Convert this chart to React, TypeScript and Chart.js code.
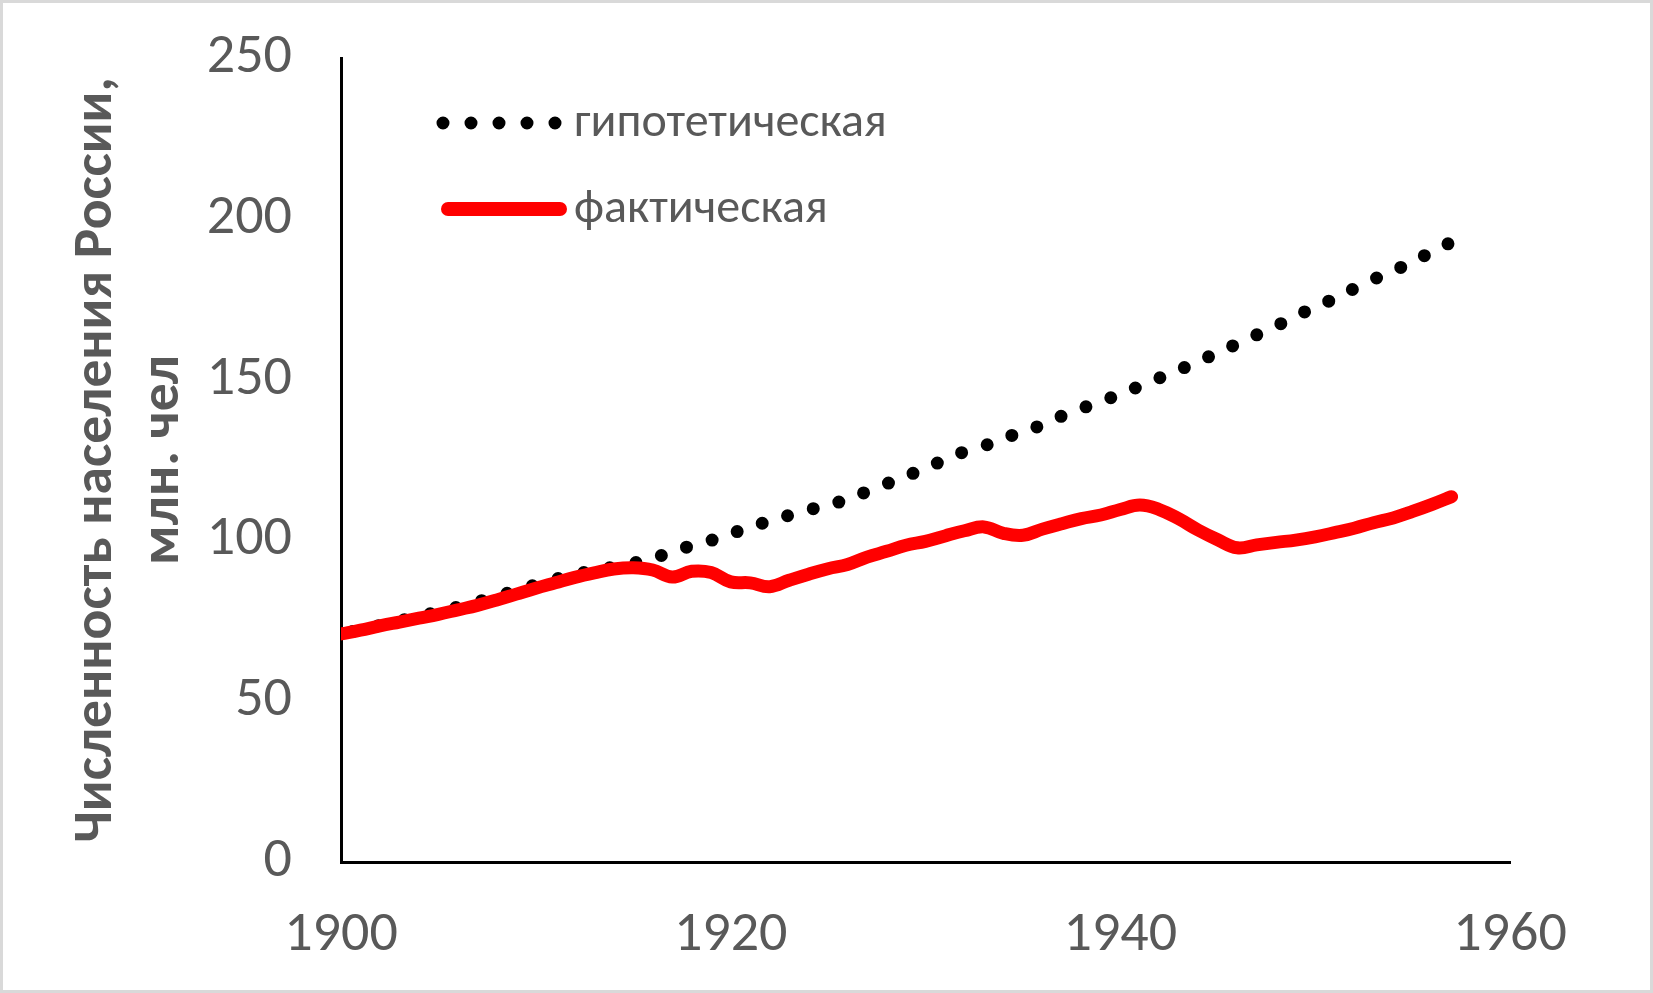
import { useEffect, useRef } from "react";
import { Chart, registerables, Plugin } from "chart.js";

Chart.register(...registerables);

const years = [
  1900, 1901, 1902, 1903, 1904, 1905, 1906, 1907, 1908, 1909,
  1910, 1911, 1912, 1913, 1914, 1915, 1916, 1917, 1918, 1919,
  1920, 1921, 1922, 1923, 1924, 1925, 1926, 1927, 1928, 1929,
  1930, 1931, 1932, 1933, 1934, 1935, 1936, 1937, 1938, 1939,
  1940, 1941, 1942, 1943, 1944, 1945, 1946, 1947, 1948, 1949,
  1950, 1951, 1952, 1953, 1954, 1955, 1956, 1957,
];

// гипотетическая численность (без войн и революций), млн. чел
const hypothetical = [
  70.9, 72.2, 73.6, 75.0, 76.4, 77.8, 79.3, 80.9, 82.6, 84.4,
  86.2, 87.9, 89.4, 90.6, 91.7, 92.9, 94.5, 96.4, 98.4, 100.0,
  102.0, 104.2, 106.0, 107.8, 109.5, 111.0, 112.8, 115.2, 117.6, 119.9,
  122.6, 125.0, 127.6, 129.4, 131.6, 134.0, 135.9, 138.7, 141.0, 143.3,
  145.4, 148.0, 150.5, 153.0, 155.6, 158.4, 161.1, 163.9, 166.7, 169.7,
  172.6, 175.2, 178.3, 181.2, 183.7, 186.8, 189.7, 192.8,
];

// фактическая численность, млн. чел
const actual = [
  70.9, 72.1, 73.4, 74.6, 75.8, 77.0, 78.4, 79.8, 81.5, 83.3,
  85.1, 86.8, 88.5, 89.9, 91.1, 91.5, 90.8, 88.6, 90.4, 90.0,
  87.1, 86.8, 85.6, 87.6, 89.5, 91.2, 92.5, 94.8, 96.6, 98.5,
  99.7, 101.4, 103.0, 104.2, 102.2, 101.6, 103.5, 105.2, 106.8, 107.9,
  109.6, 111.0, 109.6, 106.7, 103.2, 100.2, 97.7, 98.6, 99.4, 100.1,
  101.1, 102.4, 103.8, 105.5, 107.0, 109.0, 111.2, 113.6,
];

const seriesLabels = ["гипотетическая", "фактическая"];
const axisTitle = ["Численность населения России,", "млн. чел"];
const xRange = [1900, 1960];
const yRange = [0, 250];

const FONT = "Carlito, 'Open Sans', sans-serif";
const GREY = "#595959";

// легенда внутри области графика, как в исходнике
const insideLegend: Plugin<"line"> = {
  id: "insideLegend",
  afterDatasetsDraw(chart) {
    const { ctx, chartArea } = chart;
    const x0 = chartArea.left + 102;
    const rows = [chartArea.top + 65, chartArea.top + 151];
    ctx.save();
    chart.data.datasets.forEach((ds: any, i) => {
      const y = rows[i];
      ctx.beginPath();
      ctx.strokeStyle = ds.borderColor;
      ctx.lineCap = "round";
      if (i === 0) {
        ctx.lineWidth = ds.borderWidth;
        ctx.setLineDash([0, 28]);
        ctx.moveTo(x0, y);
        ctx.lineTo(x0 + 112.5, y);
      } else {
        ctx.lineWidth = 14;
        ctx.setLineDash([]);
        ctx.moveTo(x0 + 5, y);
        ctx.lineTo(x0 + 117, y);
      }
      ctx.stroke();
      ctx.setLineDash([]);
      ctx.fillStyle = GREY;
      ctx.font = `48px ${FONT}`;
      ctx.textBaseline = "middle";
      ctx.textAlign = "left";
      ctx.fillText(ds.label, x0 + 131, y + 1);
    });
    ctx.restore();
  },
};

export default function App() {
  const canvasRef = useRef<HTMLCanvasElement>(null);
  const chartRef = useRef<Chart | null>(null);

  useEffect(() => {
    document.body.style.margin = "0";
    if (!canvasRef.current) return;
    if (chartRef.current) chartRef.current.destroy();

    chartRef.current = new Chart(canvasRef.current, {
      type: "line",
      data: {
        datasets: [
          {
            label: seriesLabels[0],
            data: years.map((x, i) => ({ x, y: hypothetical[i] })),
            borderColor: "#000000",
            borderWidth: 13,
            borderDash: [0, 26.5],
            borderDashOffset: 14.5,
            borderCapStyle: "round",
            pointRadius: 0,
            tension: 0.4,
            order: 2,
          },
          {
            label: seriesLabels[1],
            data: years.map((x, i) => ({ x, y: actual[i] })),
            borderColor: "#ff0000",
            borderWidth: 13,
            borderCapStyle: "round",
            borderJoinStyle: "round",
            pointRadius: 0,
            tension: 0.4,
            order: 1,
          },
        ],
      },
      options: {
        responsive: true,
        maintainAspectRatio: false,
        animation: false,
        clip: 0 as any,
        layout: { padding: { left: 0, top: 58, right: 143, bottom: 0 } },
        plugins: {
          legend: { display: false },
          tooltip: { enabled: false },
        },
        scales: {
          x: {
            type: "linear",
            min: xRange[0],
            max: xRange[1],
            grid: { display: false },
            border: { display: true, color: "#000000", width: 3 },
            ticks: {
              stepSize: 20,
              padding: 32,
              color: GREY,
              font: { family: FONT, size: 56 },
              callback: (v) => String(v),
            },
            afterFit: (scale) => {
              scale.height = 131;
            },
          },
          y: {
            min: yRange[0],
            max: yRange[1],
            grid: { display: false },
            border: { display: true, color: "#000000", width: 3 },
            ticks: {
              stepSize: 50,
              padding: 41,
              color: GREY,
              // малая высота строки, чтобы подписи не сдвигали область графика
              font: { family: FONT, size: 56, lineHeight: 0.5 },
              callback: (v) => String(v),
            },
            title: {
              display: true,
              text: axisTitle,
              color: GREY,
              font: { family: FONT, size: 55.5, weight: "bold", lineHeight: 1.207 },
              padding: { top: 63.5, bottom: 0 },
            },
            afterFit: (scale) => {
              scale.width = 341;
            },
          },
        },
      },
      plugins: [insideLegend],
    });

    return () => {
      if (chartRef.current) {
        chartRef.current.destroy();
        chartRef.current = null;
      }
    };
  }, []);

  return (
    <div style={{ position: "relative", width: 1653, height: 993, background: "#ffffff" }}>
      <canvas ref={canvasRef} />
      <div
        style={{
          position: "absolute",
          inset: 0,
          border: "3px solid #d9d9d9",
          boxSizing: "border-box",
          pointerEvents: "none",
        }}
      />
    </div>
  );
}
